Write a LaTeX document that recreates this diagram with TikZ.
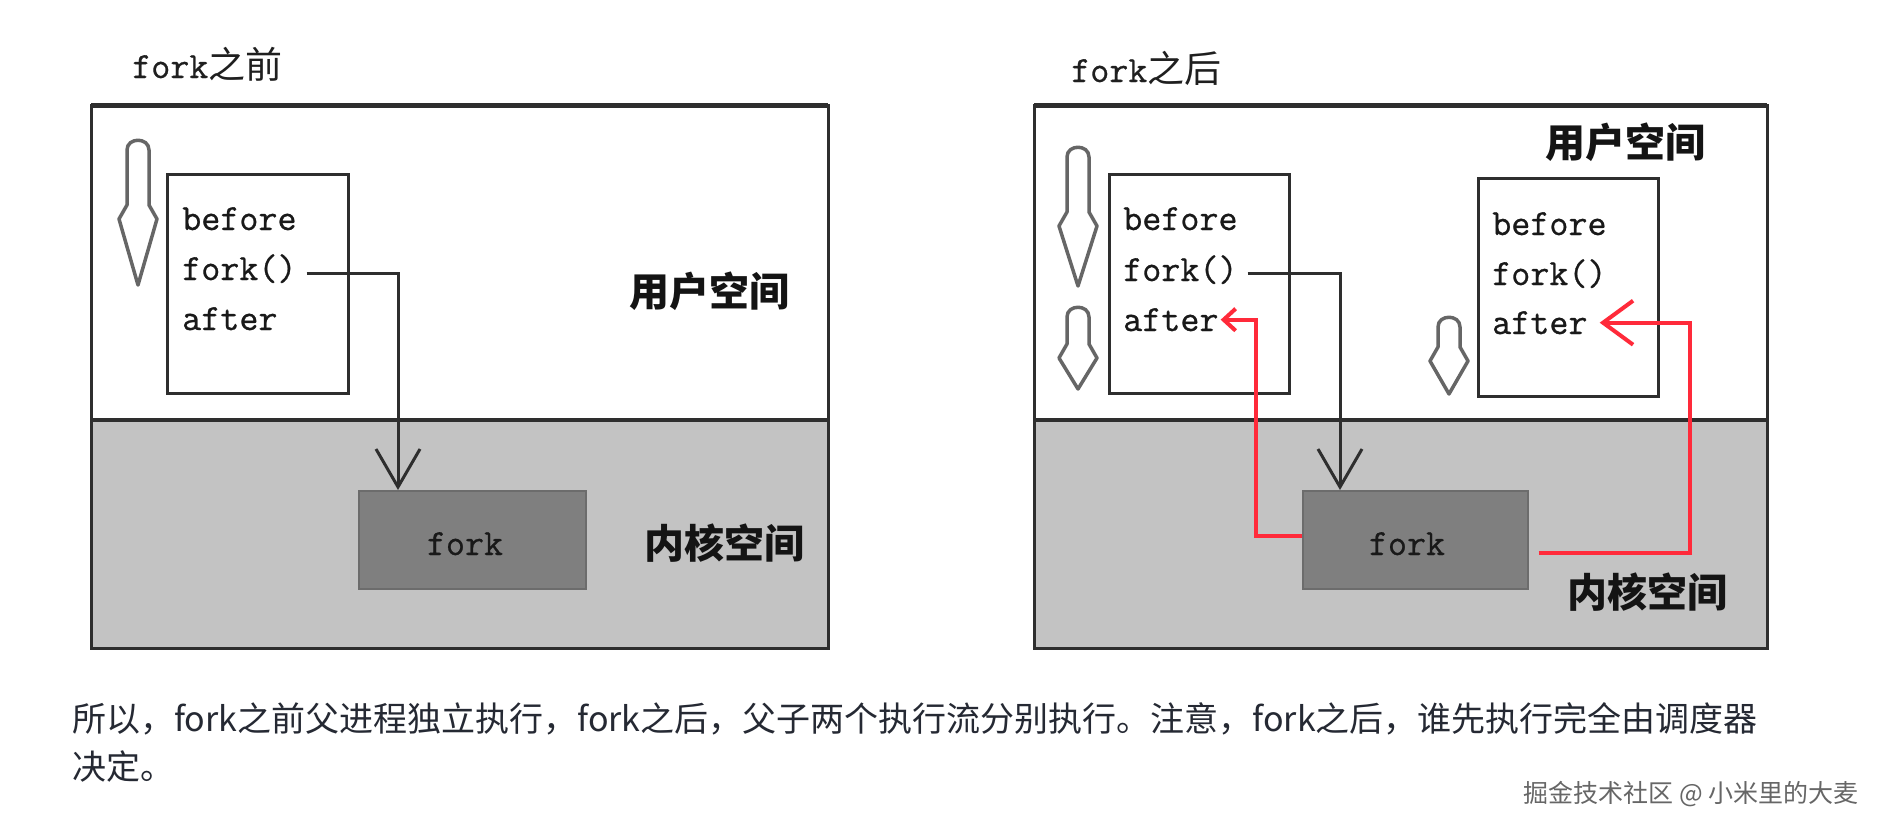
\documentclass[tikz,border=0pt]{standalone}
\usepackage{fontspec}
\newfontfamily\cjk{Noto Sans CJK SC}
\newfontfamily\codefont{Latin Modern Mono}[FakeBold=0.7]
\usetikzlibrary{arrows.meta}
\definecolor{kgray}{HTML}{C3C3C3}
\definecolor{fgray}{HTML}{7F7F7F}
\definecolor{edge}{HTML}{2E2E2E}
\definecolor{redline}{HTML}{FF2A3A}
\definecolor{txt}{HTML}{252933}
\tikzset{
  panel/.style={draw=edge, line width=3pt},
  codebox/.style={draw=edge, line width=3pt, fill=white, inner sep=0pt, anchor=north west},
  codetext/.style={font=\fontsize{37}{50}\selectfont\codefont, anchor=base west, inner sep=0pt, text=black!90},
  kbox/.style={fill=fgray, draw=fgray!85!black, line width=1.5pt, inner sep=0pt, anchor=north west},
  spacelabel/.style={font=\fontsize{40}{40}\selectfont\cjk\bfseries, inner sep=0pt, text=black!92},
  titletext/.style={font=\fontsize{37}{37}\selectfont, anchor=base west, inner sep=0pt, text=black!88},
  conn/.style={draw=edge, line width=3pt, -{Straight Barb[length=38pt, width=44pt, line width=3pt]}},
  redsmall/.style={draw=redline, line width=4pt, line join=miter, -{Straight Barb[length=12pt, width=22pt, line width=4pt]}},
  redbig/.style={draw=redline, line width=4pt, line join=miter, -{Straight Barb[length=30pt, width=44pt, line width=4pt]}},
  flowarrow/.style={fill=white, draw=black!60, line width=3.5pt, line join=round},
}
\newcommand\downflow[4]{% cx, top, widest, point
  \draw[flowarrow] ({#1+11},{#2+10}) -- ({#1+11},{#3-14}) -- ({#1+19},{#3}) -- ({#1},{#4})
    -- ({#1-19},{#3}) -- ({#1-11},{#3-14}) -- ({#1-11},{#2+10})
    .. controls ({#1-11},{#2-3}) and ({#1+11},{#2-3}) .. cycle;}
\begin{document}
\begin{tikzpicture}[x=1pt,y=-1pt]
\useasboundingbox[fill=white] (0,0) rectangle (1883,830);

% ---------------- left panel: before fork ----------------
\node[titletext] (Ltitle) at (132,78) {\codefont fork\cjk 之前};
\fill[white] (91,105) rectangle (828,420);
\fill[kgray] (91,420) rectangle (828,648);
\draw[panel] (91,105) rectangle (828,648);
\draw[edge, line width=5pt] (91,105) -- (828,105);
\draw[edge, line width=4pt] (91,420) -- (828,420);

\node[codebox, minimum width=181pt, minimum height=219pt] (Lbox) at (166,173) {};
\node[codetext] (Lb) at (182,230) {before};
\node[codetext] (Lf) at (182,280) {fork()};
\node[codetext] (La) at (182,330) {after};
\downflow{138}{140}{219}{285}

\node[kbox, minimum width=227pt, minimum height=98pt] (Lk) at (358,490) {};
\node[codetext, anchor=base] (Lkt) at (465,555) {fork};
\coordinate (Lc) at (398,273);
\draw[conn] ([xshift=10pt]Lf.east |- Lc) -- (Lc) -- (Lc |- Lk.north);

\node[spacelabel] (Lus) at (709,291) {用户空间};
\node[spacelabel] (Lks) at (724,543) {内核空间};

% ---------------- right panel: after fork ----------------
\node[titletext] (Rtitle) at (1071,82) {\codefont fork\cjk 之后};
\fill[white] (1034,105) rectangle (1767,420);
\fill[kgray] (1034,420) rectangle (1767,648);
\draw[panel] (1034,105) rectangle (1767,648);
\draw[edge, line width=5pt] (1034,105) -- (1767,105);
\draw[edge, line width=4pt] (1034,420) -- (1767,420);

\node[codebox, minimum width=180pt, minimum height=219pt] (Pbox) at (1108,173) {};
\node[codetext] (Pb) at (1123,230) {before};
\node[codetext] (Pf) at (1123,281) {fork()};
\node[codetext] (Pa) at (1123,331) {after};
\downflow{1078}{147}{226}{286}
\downflow{1078}{307}{358}{389}

\node[codebox, minimum width=180pt, minimum height=218pt] (Cbox) at (1477,177) {};
\node[codetext] (Cb) at (1492,235) {before};
\node[codetext] (Cf) at (1492,285) {fork()};
\node[codetext] (Ca) at (1492,334) {after};
\downflow{1449}{317}{361}{394}

\node[kbox, minimum width=225pt, minimum height=98pt] (Rk) at (1302,490) {};
\node[codetext, anchor=base] (Rkt) at (1407,555) {fork};
\coordinate (Rc) at (1340,273);
\draw[conn] ([xshift=10pt]Pf.east |- Rc) -- (Rc) -- (Rc |- Rk.north);

\coordinate (r1) at (1256,536);
\draw[redsmall] (Rk.west |- r1) -- (r1) |- ([xshift=2pt]Pa.east);
\coordinate (r2) at (1690,553);
\draw[redbig] ([xshift=10pt]Rk.east |- r2) -- (r2) |- ([xshift=12pt]Ca.east);

\node[spacelabel] (Rus) at (1625,142) {用户空间};
\node[spacelabel] (Rks) at (1647,592) {内核空间};

% ---------------- caption ----------------
\node[anchor=base west, inner sep=0pt, text=txt, font=\fontsize{34}{48}\selectfont\cjk] (cap1) at (72,731)
  {所以，fork之前父进程独立执行，fork之后，父子两个执行流分别执行。注意，fork之后，谁先执行完全由调度器};
\node[anchor=base west, inner sep=0pt, text=txt, font=\fontsize{34}{48}\selectfont\cjk] (cap2) at (72,779)
  {决定。};
\node[anchor=base east, inner sep=0pt, text=black!60, font=\fontsize{25}{25}\selectfont\cjk] (wm) at (1859,802)
  {掘金技术社区 @ 小米里的大麦};
\end{tikzpicture}
\end{document}
